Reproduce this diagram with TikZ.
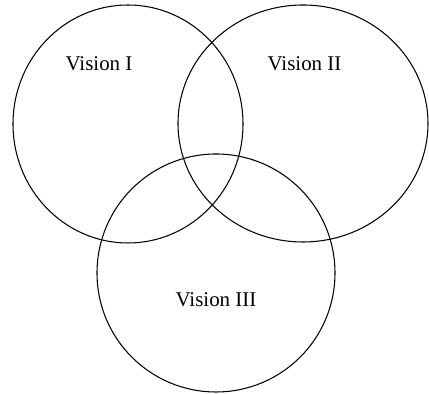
\documentclass[tikz,border=0pt]{standalone}
\usepackage{fontspec}
\setmainfont{Liberation Serif}

\begin{document}
\begin{tikzpicture}[x=1cm,y=1cm,
  visionring/.style={draw,line width=.75pt},
  visionlabel/.style={font=\fontsize{14.9}{18}\selectfont,inner sep=0pt}]
  \useasboundingbox (0,0) rectangle (10.725,9.85);

  \path[visionring] (3.2,6.75) ellipse [x radius=2.875,y radius=2.975];
  \path[visionring] (7.575,6.7625) ellipse [x radius=3.125,y radius=2.9625];
  \path[visionring] (5.4,3.025) ellipse [x radius=2.975,y radius=2.975];

  \node[visionlabel] (visionA) at (2.475,8.25) {Vision I};
  \node[visionlabel] (visionB) at (7.6125,8.25) {Vision II};
  \node[visionlabel] (visionC) at (5.4,2.3625) {Vision III};
\end{tikzpicture}
\end{document}
